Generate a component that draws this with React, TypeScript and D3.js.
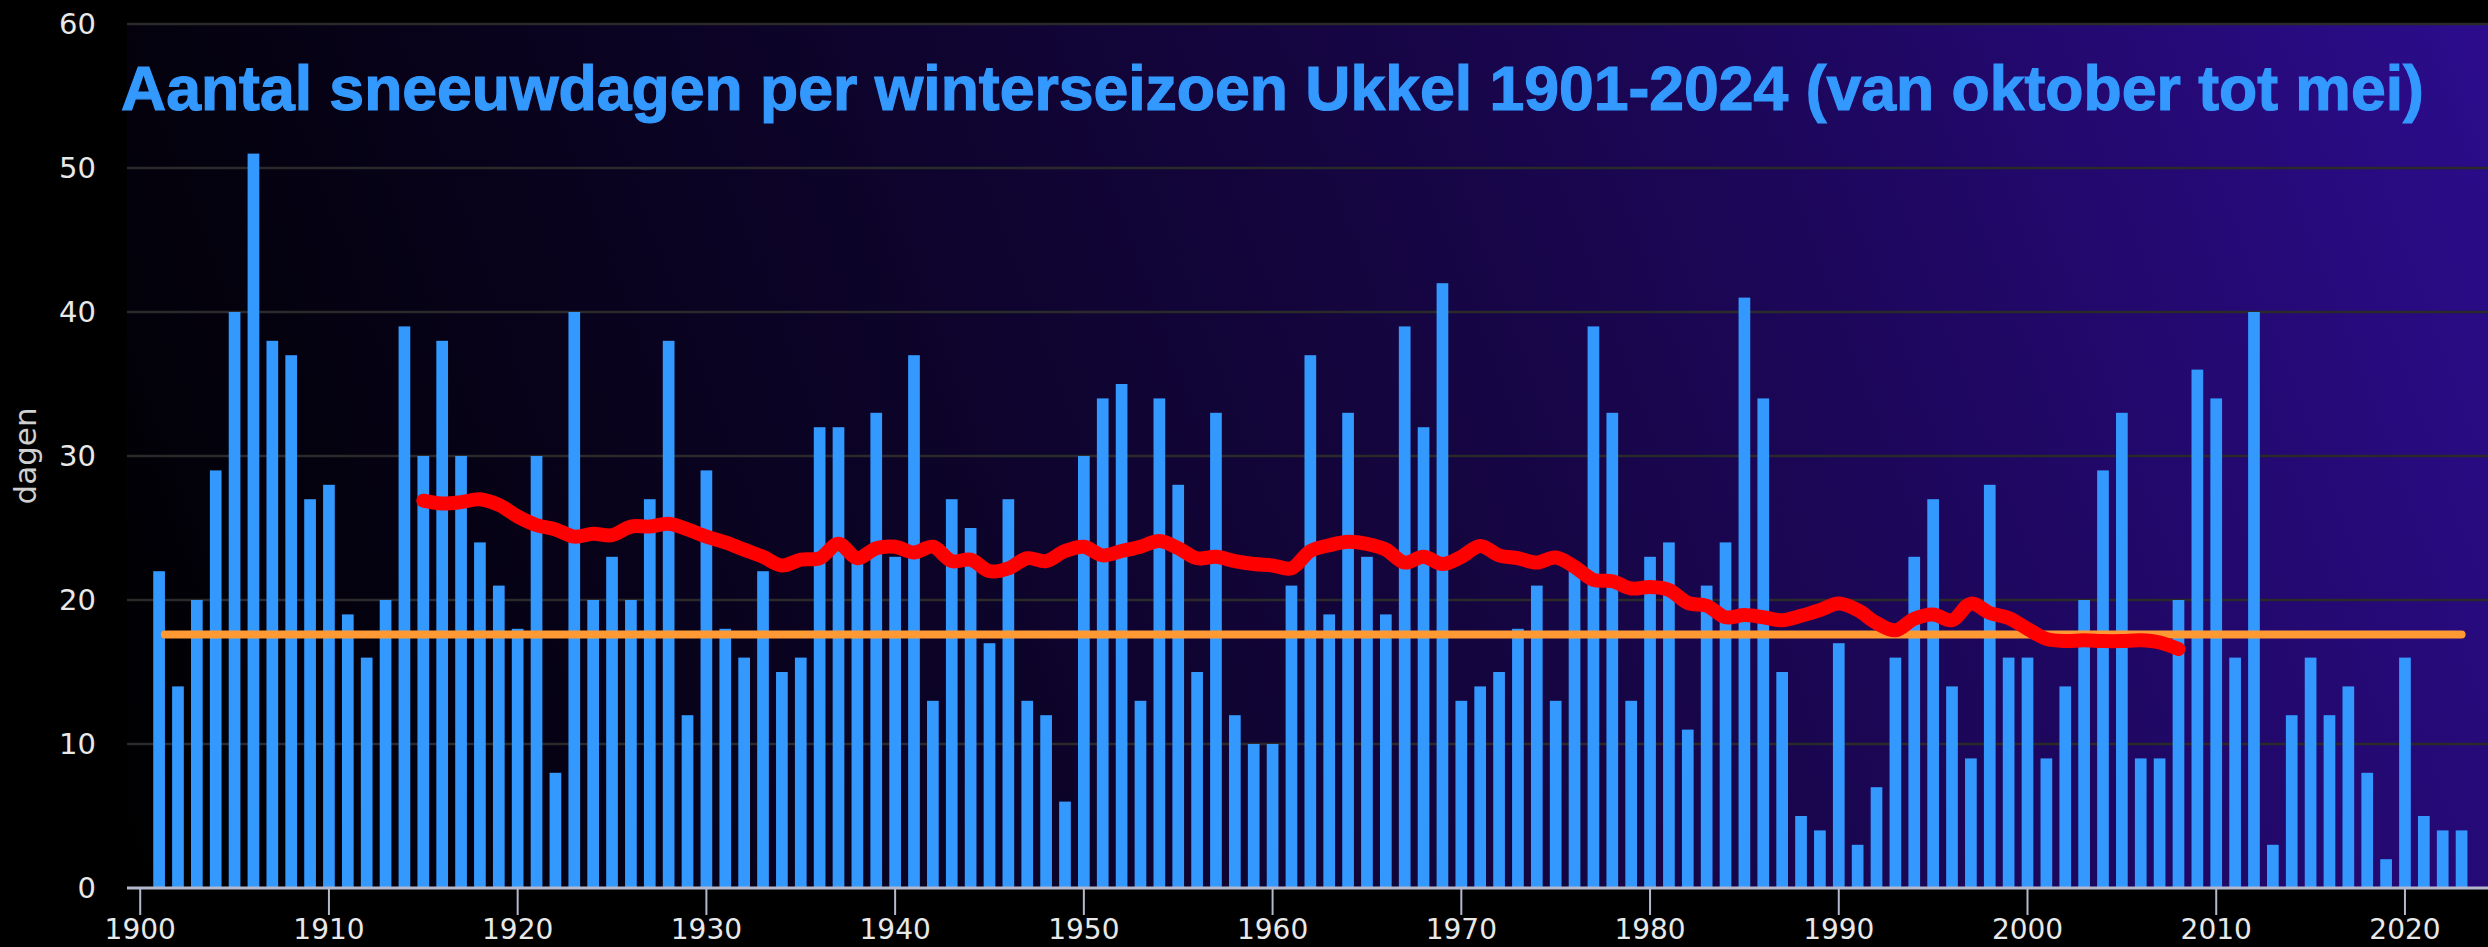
import React from 'react';
import * as d3 from 'd3';

// seasons 1901/02 .. 2023/24, number of snow days
const firstYear = 1901;
const snowDays = [
    22, 14, 20, 29, 40, 51, 38, 37, 27, 28,
    19, 16, 20, 39, 30, 38, 30, 24, 21, 18,
    30, 8, 40, 20, 23, 20, 27, 38, 12, 29,
    18, 16, 22, 15, 16, 32, 32, 23, 33, 23,
    37, 13, 27, 25, 17, 27, 13, 12, 6, 30,
    34, 35, 13, 34, 28, 15, 33, 12, 10, 10,
    21, 37, 19, 33, 23, 19, 39, 32, 42, 13,
    14, 15, 18, 21, 13, 22, 39, 33, 13, 23,
    24, 11, 21, 24, 41, 34, 15, 5, 4, 17,
    3, 7, 16, 23, 27, 14, 9, 28, 16, 16,
    9, 14, 20, 29, 33, 9, 9, 20, 36, 34,
    16, 40, 3, 12, 16, 12, 14, 8, 2, 16,
    5, 4, 4,
];

// 30-year running mean as drawn (1915 .. 2008)
const trendStart = 1915;
const trendValues = [
    26.9, 26.7, 26.8, 27.0, 26.6, 25.8, 25.2, 24.9, 24.4, 24.6,
    24.5, 25.1, 25.1, 25.3, 24.9, 24.4, 24.0, 23.5, 23.0, 22.4,
    22.8, 22.9, 23.9, 22.9, 23.6, 23.7, 23.3, 23.7, 22.7, 22.8,
    22.0, 22.2, 22.9, 22.7, 23.4, 23.7, 23.1, 23.4, 23.7, 24.1,
    23.6, 22.9, 23.0, 22.7, 22.5, 22.4, 22.2, 23.4, 23.8, 24.05,
    23.9, 23.5, 22.6, 23.0, 22.5, 23.0, 23.75, 23.1, 22.9, 22.6,
    22.95, 22.3, 21.4, 21.3, 20.8, 20.9, 20.7, 19.8, 19.6, 18.8,
    18.95, 18.8, 18.6, 18.9, 19.3, 19.75, 19.3, 18.4, 17.9, 18.7,
    19.0, 18.6, 19.75, 19.1, 18.75, 18.0, 17.3, 17.15, 17.2, 17.15,
    17.15, 17.2, 17.05, 16.6,
];

const meanValue = 17.6;

const xTicks = [1900, 1910, 1920, 1930, 1940, 1950, 1960, 1970, 1980, 1990, 2000, 2010, 2020];
const yTicks = [0, 10, 20, 30, 40, 50, 60];

const title = 'Aantal sneeuwdagen per winterseizoen Ukkel 1901-2024 (van oktober tot mei)';
const yLabel = 'dagen';

export default function App() {
    const width = 2488;
    const height = 947;
    const plot = { left: 127, right: 2488, top: 24, bottom: 888 };

    const bars = snowDays.map((v, i) => ({ year: firstYear + i, value: v }));
    const trend = trendValues.map((v, i) => ({ year: trendStart + i, value: v }));

    const x = d3.scaleLinear().domain([1899.3, 2024.4]).range([plot.left, plot.right]);
    const y = d3.scaleLinear().domain([0, 60]).range([plot.bottom, plot.top]);

    const step = x(1) - x(0);
    const barWidth = step * 0.62;

    const trendLine = d3.line<{ year: number; value: number }>()
        .x(d => x(d.year))
        .y(d => y(d.value))
        .curve(d3.curveCatmullRom.alpha(0.5));

    const tickFont = '"DejaVu Sans", sans-serif';

    return (
        <svg
            width={width}
            height={height}
            style={{ position: 'absolute', left: 0, top: 0, display: 'block', background: '#000' }}
        >
            <defs>
                <linearGradient
                    id="plotBg"
                    gradientUnits="userSpaceOnUse"
                    x1={plot.left}
                    y1={plot.bottom}
                    x2={plot.right}
                    y2={plot.top}
                >
                    <stop offset="0%" stopColor="#000000" />
                    <stop offset="30%" stopColor="#0a0322" />
                    <stop offset="55%" stopColor="#150540" />
                    <stop offset="75%" stopColor="#1e0760" />
                    <stop offset="100%" stopColor="#2c0c8c" />
                </linearGradient>
            </defs>

            <rect x={0} y={0} width={width} height={height} fill="#000" />
            <rect
                x={plot.left}
                y={plot.top}
                width={plot.right - plot.left}
                height={plot.bottom - plot.top}
                fill="url(#plotBg)"
            />

            {/* Grid lines */}
            {yTicks.filter(t => t > 0).map(t => (
                <line
                    key={'g' + t}
                    x1={plot.left}
                    x2={plot.right}
                    y1={y(t)}
                    y2={y(t)}
                    stroke="#2a2a2a"
                    strokeWidth={2.5}
                />
            ))}

            {/* Title */}
            <text
                x={121}
                y={110}
                fill="#3399ff"
                stroke="#3399ff"
                strokeWidth={1.2}
                fontFamily='"Liberation Sans", Arial, sans-serif'
                fontWeight="bold"
                fontSize={62.5}
            >
                {title}
            </text>

            {/* Bars */}
            {bars.map(d => (
                <rect
                    key={d.year}
                    x={x(d.year) - barWidth / 2}
                    y={y(d.value)}
                    width={barWidth}
                    height={y(0) - y(d.value)}
                    fill="#3399ff"
                />
            ))}

            {/* Mean line */}
            <line
                x1={x(bars[0].year) + barWidth / 2}
                x2={x(bars[bars.length - 1].year)}
                y1={y(meanValue)}
                y2={y(meanValue)}
                stroke="#ff9933"
                strokeWidth={8}
                strokeLinecap="round"
            />

            {/* Running mean */}
            <path
                d={trendLine(trend) || ''}
                fill="none"
                stroke="#ff0000"
                strokeWidth={14}
                strokeLinecap="round"
                strokeLinejoin="round"
            />

            {/* X axis */}
            <line
                x1={plot.left}
                x2={plot.right}
                y1={plot.bottom}
                y2={plot.bottom}
                stroke="#b4b8cc"
                strokeWidth={3}
            />
            {xTicks.map(t => (
                <g key={'x' + t} transform={`translate(${x(t)},0)`}>
                    <line y1={plot.bottom} y2={plot.bottom + 27} stroke="#b4b8cc" strokeWidth={2} />
                    <text
                        y={939}
                        textAnchor="middle"
                        fill="#e8e8e8"
                        fontFamily={tickFont}
                        fontSize={28}
                    >
                        {t}
                    </text>
                </g>
            ))}

            {/* Y labels */}
            {yTicks.map(t => (
                <text
                    key={'y' + t}
                    x={96}
                    y={y(t)}
                    dy="0.36em"
                    textAnchor="end"
                    fill="#e8e8e8"
                    fontFamily={tickFont}
                    fontSize={29}
                >
                    {t}
                </text>
            ))}

            <text
                transform={`translate(36,${(plot.top + plot.bottom) / 2}) rotate(-90)`}
                textAnchor="middle"
                fill="#d0d0d0"
                fontFamily={tickFont}
                fontSize={31}
            >
                {yLabel}
            </text>
        </svg>
    );
}
